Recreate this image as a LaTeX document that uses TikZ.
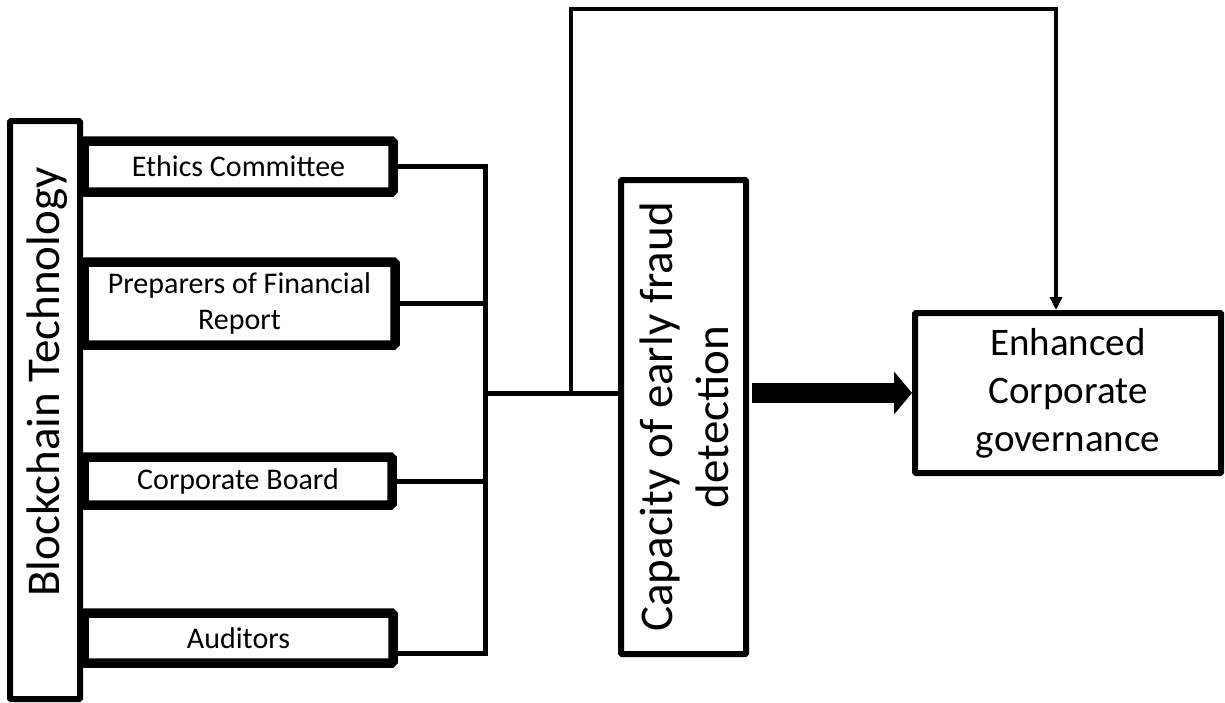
\documentclass[tikz,border=0pt]{standalone}
\usepackage{fontspec}
\setmainfont{Carlito}
\usepackage{tikz}
\usetikzlibrary{arrows.meta,positioning,calc}

\begin{document}
\begin{tikzpicture}[x=1pt,y=-1pt,
    member/.style={draw, line width=9.5pt, rounded corners=1.5pt, fill=white, align=center,
        font=\fontsize{30}{36}\selectfont, inner sep=0pt},
    bigbox/.style={draw, line width=6pt, rounded corners=1pt, inner sep=0pt},
    bigtext/.style={rotate=90, align=center, font=\fontsize{47}{56}\selectfont},
    wire/.style={line width=5pt},
    back/.style={line width=4pt, -{Triangle[length=13pt,width=12pt]}}]
    \useasboundingbox (0,0) rectangle (1225,702);

    % Blockchain column
    \node[bigbox, minimum width=70, minimum height=578] (chain) at (45,410) {};
    \node[bigtext] (chaintext) at (47,382) {Blockchain Technology};

    % The four members
    \node[member, minimum width=309, minimum height=51] (ethics) at (238.5,166.5) {Ethics Committee};
    \node[member, minimum width=311, minimum height=83] (prep) at (239.5,303.5) {Preparers of Financial\\Report};
    \node[member, minimum width=308, minimum height=48] (board) at (238,481) {Corporate Board};
    \node[member, minimum width=309, minimum height=50] (audit) at (238.5,638) {Auditors};

    % Early detection and outcome
    \node[bigbox, minimum width=125, minimum height=474] (detect) at (683.5,417) {};
    \node[bigtext] (detecttext) at (684.5,417) {Capacity of early fraud\\detection};
    \node[bigbox, minimum width=306, minimum height=160, align=center,
        font=\fontsize{39}{48}\selectfont] (goal) at (1068,393) {Enhanced\\Corporate\\governance};

    % Bus joining the members
    \coordinate (bus) at (485,393);
    \coordinate (split) at (571,393);
    \coordinate (auditout) at ($(audit.east)+(0,15)$);
    \draw[wire] (ethics.east) -- (ethics.east -| bus) -- (auditout -| bus) -- (auditout);
    \draw[wire] (prep.east) -- (prep.east -| bus);
    \draw[wire] (board.east) -- (board.east -| bus);
    \draw[wire] (bus) -- (detect.west |- bus);

    % Return path over the top
    \coordinate (ret) at (1056,9);
    \draw[back] (split) |- (ret) -- (ret |- goal.north);

    % Thick arrow
    \draw[line width=20pt, shorten <=3pt, -{Triangle[length=18pt,width=42pt]}] (detect.east |- goal.west) -- (goal.west);
\end{tikzpicture}
\end{document}
